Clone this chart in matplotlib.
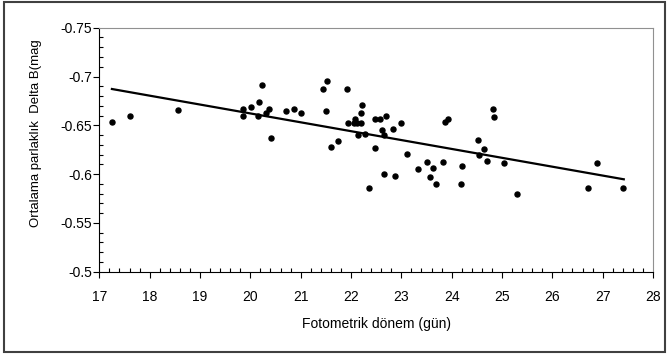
import matplotlib
matplotlib.use("Agg")
import matplotlib.pyplot as plt
from matplotlib.patches import Rectangle
from matplotlib.ticker import MultipleLocator, FuncFormatter

# photometric period (days) and mean brightness Delta B (mag)
period = [17.25, 17.60, 18.57, 19.86, 19.86, 20.01, 20.15, 20.17, 20.23, 20.32,
          20.37, 20.42, 20.70, 20.87, 21.00, 21.45, 21.53, 21.50, 21.61, 21.75,
          21.92, 21.94, 22.05, 22.08, 22.12, 22.19, 22.19, 22.22, 22.14, 22.27,
          22.35, 22.47, 22.47, 22.58, 22.61, 22.69, 22.66, 22.66, 22.83, 22.88,
          23.00, 23.11, 23.33, 23.52, 23.62, 23.57, 23.68, 23.82, 23.87, 23.92,
          24.19, 24.21, 24.52, 24.54, 24.65, 24.71, 24.82, 24.85, 25.04, 25.29,
          26.70, 26.89, 27.40]
delta_b = [-0.6537, -0.6595, -0.6654, -0.6667, -0.6595, -0.6684, -0.6595, -0.6739, -0.6910, -0.6629,
           -0.6667, -0.6367, -0.6650, -0.6667, -0.6623, -0.6869, -0.6954, -0.6650, -0.6281, -0.6339,
           -0.6869, -0.6527, -0.6527, -0.6565, -0.6527, -0.6527, -0.6623, -0.6711, -0.6398, -0.6411,
           -0.5854, -0.6267, -0.6565, -0.6565, -0.6452, -0.6595, -0.6398, -0.5998, -0.6465, -0.5981,
           -0.6527, -0.6209, -0.6052, -0.6124, -0.6066, -0.5967, -0.5896, -0.6124, -0.6537, -0.6565,
           -0.5896, -0.6080, -0.6353, -0.6196, -0.6254, -0.6137, -0.6667, -0.6582, -0.6111, -0.5796,
           -0.5854, -0.6111, -0.5860]

# linear trend line end points, as drawn
trend_x = [17.25, 27.42]
trend_y = [-0.6872, -0.5947]

plt.rcParams['font.family'] = ['Liberation Sans', 'DejaVu Sans']

fig = plt.figure(figsize=(6.68, 3.58), dpi=100)
ax = fig.add_axes([0.1487, 0.241, 0.8288, 0.6816])

ax.scatter(period, delta_b, s=13, color='black', zorder=3)
ax.plot(trend_x, trend_y, color='black', linewidth=1.6, zorder=2)

ax.set_xlim(17, 28)
ax.set_ylim(-0.5, -0.75)
ax.xaxis.set_major_locator(MultipleLocator(1))
ax.xaxis.set_minor_locator(MultipleLocator(0.2))
ax.yaxis.set_major_locator(MultipleLocator(0.05))
ax.yaxis.set_minor_locator(MultipleLocator(0.01))
ax.yaxis.set_major_formatter(FuncFormatter(lambda v, p: '%g' % round(v, 2)))

ax.tick_params(which='major', direction='out', length=4, width=0.8, labelsize=10)
ax.tick_params(which='minor', direction='in', length=3, width=0.8)
ax.tick_params(axis='x', which='major', pad=9)
ax.tick_params(axis='y', which='major', pad=1)

for side in ['top', 'right']:
    ax.spines[side].set_color('#909090')
for side in ['left', 'bottom']:
    ax.spines[side].set_color('black')

ax.set_xlabel('Fotometrik dönem (gün)', fontsize=10)
ax.xaxis.set_label_coords(0.5, -0.186)
ax.set_ylabel('Ortalama parlaklık  Delta B(mag', fontsize=9.5)
ax.yaxis.set_label_coords(-0.103, 0.566)

fig.patches.append(Rectangle((4 / 668, 6 / 358), 661 / 668, 350 / 358,
                             transform=fig.transFigure, fill=False,
                             edgecolor='#404040', linewidth=1.5))

fig.savefig('out.png', dpi=100)
